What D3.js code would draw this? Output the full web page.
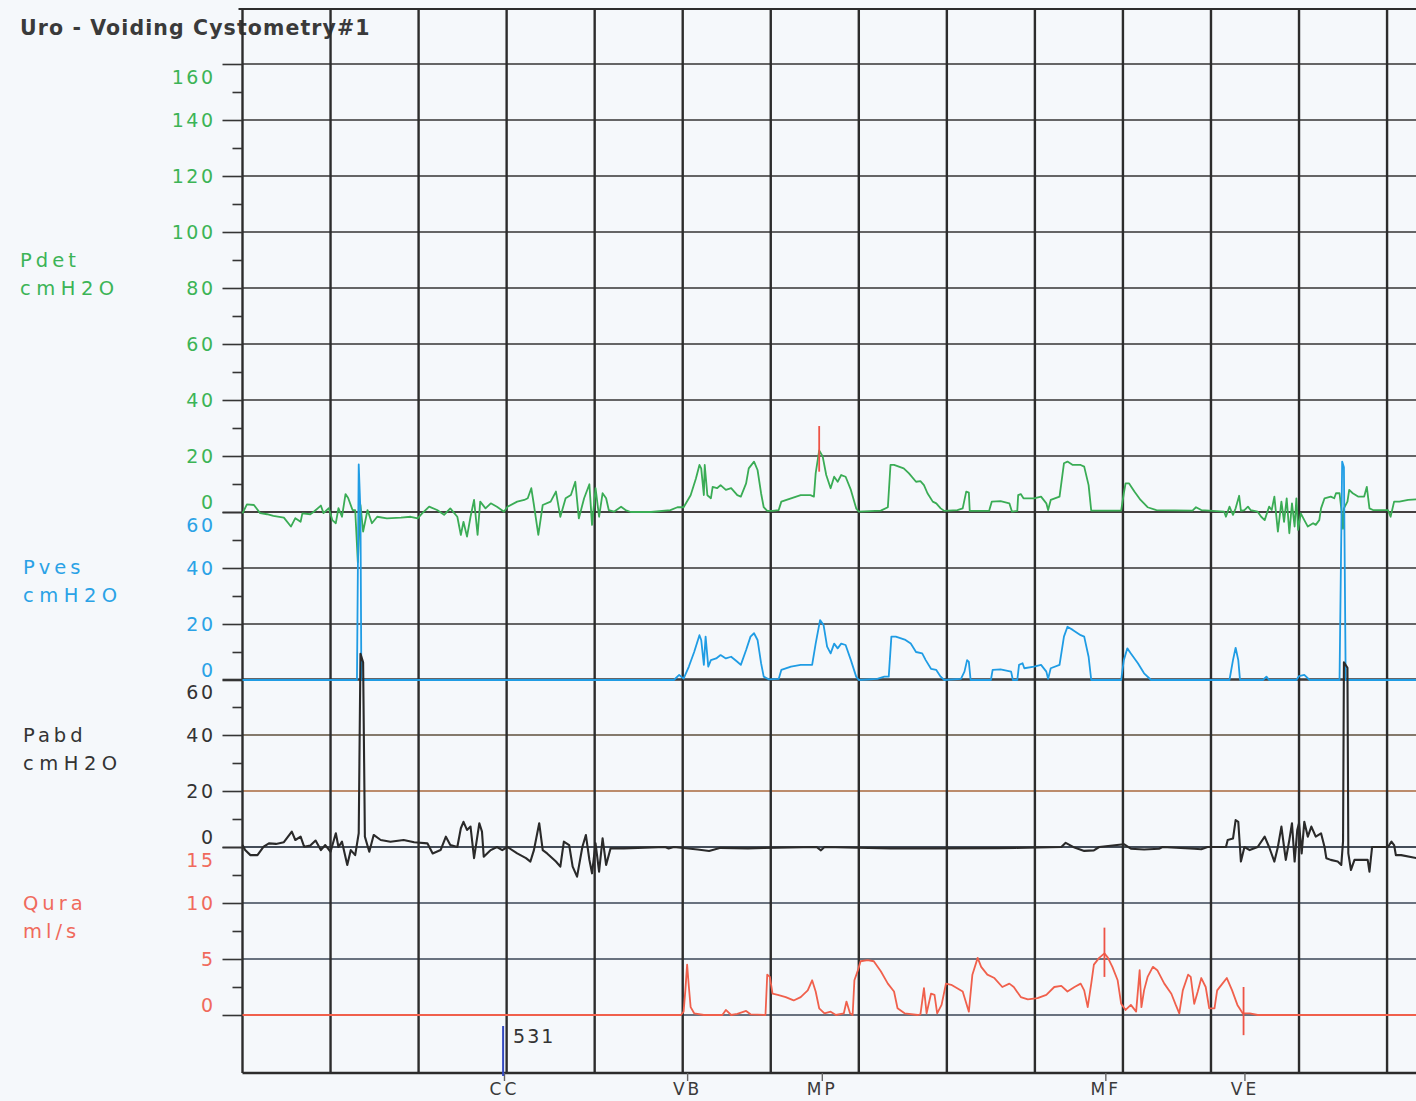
<!DOCTYPE html>
<html>
<head>
<meta charset="utf-8">
<script src="https://cdn.jsdelivr.net/npm/d3@7"></script>
<style>
  html, body { margin: 0; padding: 0; background: #f5f8fb; overflow: hidden; }
  svg { display: block; }
</style>
</head>
<body>
<div id="chart"></div>
<script>
const title = "Uro - Voiding Cystometry#1";

// time in seconds, one grid division = 10 s
const gridTimes = d3.range(0, 140, 10);
const timeDomain = [0, 133.4];

const pdetTicks = [0, 20, 40, 60, 80, 100, 120, 140, 160];
const pvesTicks = [0, 20, 40, 60];
const pabdTicks = [0, 20, 40, 60];
const quraTicks = [0, 5, 10, 15];

// [time s, cmH2O]
const pdet = [
  [0,-0.5],[0.5,2.7],[1.3,2.5],[2.0,-0.4],[2.8,-0.8],[3.5,-1.4],[4.7,-2],[5.5,-5.2],[6.0,-2.2],[6.6,-3.5],
  [6.8,-0.5],[7.7,-0.8],[8.1,0.1],[8.9,2.3],[9.2,-0.4],[9.8,1.4],[10.2,-2.9],[10.6,-4],[10.9,1.4],[11.3,-1.7],
  [11.7,6.4],[12.0,5],[12.5,0.7],[12.8,0.7],[13.1,-18],[13.4,2.5],[13.7,-7],[14.2,0.7],[14.7,-4],[15.3,-1.7],
  [16.4,-2.3],[18.0,-2],[19.1,-1.7],[19.9,-2.3],[20.4,-0.5],[21.2,1.9],[22.1,0.7],[22.9,-1],[23.6,1.3],[24.4,-1.7],
  [24.8,-8.2],[25.1,-3.5],[25.5,-8.8],[25.9,-1.7],[26.3,4.3],[26.7,-8.2],[27.0,3.7],[27.6,1.3],[28.2,3.1],[28.9,1.9],
  [29.7,0.1],[30.1,1.9],[31.2,3.7],[32.0,4.3],[32.4,4.9],[32.8,8.5],[33.1,2.5],[33.6,-8.2],[34.1,2.5],[35.0,3.7],
  [35.6,7.3],[36.1,-1.7],[36.7,4.9],[37.3,6.1],[37.8,10.8],[38.2,-2.3],[38.8,4.9],[39.4,9.9],[39.7,-4.6],[40.1,8.5],
  [40.5,-1.7],[40.9,6.7],[41.3,4.9],[41.6,0.7],[42.2,0.1],[43.0,1.9],[43.5,0.7],[44.1,0],[46.4,0],[48.6,0.7],
  [49.4,1.7],[50.1,1.7],[50.9,6],[51.5,12],[51.9,16.8],[52.1,15.6],[52.4,6],[52.5,16.8],[52.8,6],[53.2,4.9],
  [53.4,9],[53.9,8.5],[54.3,9.6],[54.9,7.9],[55.5,8.5],[56.2,6],[56.6,5.5],[57.2,10.2],[57.5,15.6],[58.1,18],
  [58.5,15],[58.9,6.7],[59.2,1.7],[59.6,0.4],[60.2,0.4],[60.9,0.7],[61.2,3.7],[62.3,4.9],[63.4,6],[64.5,6],
  [64.9,5.5],[65.1,13.8],[65.5,22],[65.9,19.8],[66.3,13.2],[66.8,8.5],[67.2,12.6],[67.6,10.8],[68.0,13.2],[68.5,12.6],
  [69.1,7.9],[69.7,1.3],[70.0,0.1],[72.5,0.5],[73.3,1.7],[73.6,16.8],[74.0,16.8],[75.1,15.6],[75.7,13.8],[76.5,10.8],
  [77.0,11],[77.4,9.6],[77.8,6.7],[78.4,3.7],[78.8,3.1],[79.3,1.3],[79.7,0.4],[81.2,0.7],[81.8,1.3],[82.2,7.3],
  [82.5,6.9],[82.6,0.4],[84.8,0.4],[85.1,3.7],[86.1,3.9],[87.1,3.1],[87.4,0.1],[88.0,0.4],[88.1,6],[88.4,6.4],
  [88.7,4.9],[89.9,4.9],[90.7,5.5],[91.3,3.1],[91.5,0.7],[91.8,4.3],[92.8,5.5],[93.3,17.4],[93.7,18],[94.3,16.8],
  [95.2,16.8],[95.6,16.2],[96.1,9.6],[96.4,0.5],[99.8,0.5],[100.1,6.7],[100.3,10.2],[100.7,10.2],[101.3,7.3],[102.0,4.3],
  [102.8,1.7],[103.8,0.7],[107.9,0.5],[108.3,1.7],[108.9,0.7],[111.5,0.1],[111.7,-1.7],[112.1,1.9],[112.5,-1],[112.8,1.3],
  [113.2,5.8],[113.4,0.4],[113.8,0.7],[114.2,1.9],[114.5,0.7],[115.3,0.1],[115.7,-1.7],[116.1,-2.9],[116.6,1.9],[116.9,0.7],
  [117.2,5.5],[117.6,-7],[118.0,3.7],[118.3,-3.5],[118.6,4.9],[118.9,-7.6],[119.2,3.1],[119.5,-5.2],[119.7,4.9],[119.9,-6.4],
  [120.2,-0.5],[120.6,-2.9],[121.0,-5.2],[121.6,-4],[121.9,-4.6],[122.3,-2.9],[122.5,1.3],[122.9,4.9],[123.6,5.5],[124.0,4.9],
  [124.2,6.7],[124.6,6.7],[124.8,1.3],[125.0,-6],[125.1,1.3],[125.5,3.7],[125.7,7.9],[126.1,6.7],[126.7,5.5],[127.4,5.5],
  [127.7,9],[128.0,1.3],[128.4,0.7],[130.1,0.7],[130.4,-1.7],[130.8,3.7],[131.4,3.7],[132.4,4.3],[133.4,4.5]
];

const pves = [
  [0,0],[13.0,0],[13.2,77],[13.4,60],[13.5,0],[49.0,0],[49.6,1.8],[50.1,0.5],[50.7,4.8],[51.3,10],
  [51.9,16],[52.1,14.3],[52.4,5.4],[52.6,15.5],[52.9,4.8],[53.2,7.1],[53.8,7.7],[54.3,8.9],[54.9,7.7],[55.5,8.3],
  [56.2,6.5],[56.6,5.4],[57.2,10.7],[57.7,15.5],[58.1,16.7],[58.5,14.3],[58.9,6],[59.2,1.2],[59.8,0.2],[60.9,0.4],
  [61.2,3.6],[62.3,4.8],[63.4,5.4],[64.7,5.4],[65.1,13],[65.6,21.4],[66.0,19.6],[66.4,11.9],[66.8,9.5],[67.2,13],
  [67.6,11.3],[68.0,13],[68.5,12.5],[69.1,7.1],[69.7,1.2],[70.0,0],[72.1,0.4],[72.9,1.2],[73.4,1.2],[73.7,15.5],
  [74.2,15.5],[75.3,14.3],[75.9,13],[76.5,10],[77.2,9.5],[77.6,7.1],[78.2,4],[78.8,3.6],[79.3,1.2],[79.7,0],
  [81.6,0.4],[82.0,3],[82.3,7.1],[82.5,6.5],[82.7,0],[85.0,0],[85.2,3.6],[86.1,3.8],[87.3,3],[87.5,0],
  [88.0,0],[88.2,5.4],[88.6,6],[88.8,4.2],[89.9,4.8],[90.7,5.4],[91.3,3],[91.5,0.4],[91.8,4.2],[92.8,5.4],
  [93.3,15.5],[93.7,19],[94.3,17.9],[95.2,16],[95.6,15.5],[96.1,8.3],[96.4,0],[99.8,0],[100.1,7.1],[100.5,11.3],
  [100.9,9.5],[101.7,6],[102.4,2.4],[103.2,0],[112.1,0],[112.5,7.1],[112.8,11.5],[113.1,7.1],[113.3,0],[115.9,0],
  [116.3,1.2],[116.6,0],[119.7,0],[120.0,1.4],[120.6,1.8],[121.2,0],[124.6,0],[124.9,78],[125.1,76],[125.3,0],
  [133.4,0]
];

const pabd = [
  [0,0.7],[0.3,-1.1],[0.9,-2.9],[1.7,-2.9],[2.4,0.1],[3.0,1.3],[3.8,1.1],[4.7,1.7],[5.6,5.5],[6.0,2.5],
  [6.6,3.7],[7.0,0.1],[7.7,0.5],[8.3,2.3],[8.9,-1.1],[9.4,0.7],[10.0,-1.7],[10.6,4.9],[10.9,0],[11.3,1.9],
  [11.9,-6.4],[12.3,-1.1],[12.8,-2.9],[13.2,4.9],[13.4,69],[13.7,66],[13.9,3.7],[14.4,-1.7],[14.9,4.3],[15.7,2.5],
  [16.8,1.9],[18.3,2.5],[19.5,1.7],[21.0,1.3],[21.6,-2.3],[22.5,-1.1],[23.1,3.7],[23.6,0.7],[24.4,0],[24.8,6.7],
  [25.1,9],[25.5,6.1],[25.9,7.3],[26.3,-4],[26.9,8.5],[27.2,5.5],[27.4,-3.5],[28.2,-1.1],[28.9,0],[29.5,-1.1],
  [30.1,0],[31.2,-2.3],[32.2,-4],[32.7,-5.2],[33.1,-1.1],[33.7,8.5],[34.1,-1.1],[34.6,-2.3],[35.6,-5.2],[36.1,-7],
  [36.5,1.9],[37.1,0.7],[37.5,-7],[38.0,-10.6],[38.6,0],[39.0,4.3],[39.4,-4.6],[39.7,-9.4],[40.1,1.3],[40.5,-8.8],
  [40.9,3.1],[41.3,-6.4],[41.8,-0.5],[43.3,-0.5],[44.9,-0.3],[48.0,0],[48.4,-0.5],[49.0,0],[51.7,-0.9],[53.0,-1.4],
  [54.3,-0.3],[57.4,-0.5],[59.2,-0.3],[65.2,0],[65.7,-1.2],[66.1,0],[73.6,-0.5],[78.6,-0.5],[85.8,-0.4],[87.8,-0.3],
  [93.0,0],[93.5,1.5],[94.5,-0.2],[95.6,-1.4],[96.7,-1.2],[97.3,0],[100.1,1],[100.9,-0.6],[102.4,-0.9],[104.1,-0.6],
  [104.5,0],[108.1,-0.6],[108.9,-0.8],[109.6,0],[111.7,0],[111.9,2.5],[112.5,3],[112.8,9.6],[113.1,9],[113.4,-5.2],
  [113.8,0],[114.4,-1.1],[115.3,0],[116.1,3.7],[116.6,0],[117.2,-5.2],[117.6,0],[118.0,7.3],[118.3,0],[118.5,-4.6],
  [118.9,2.5],[119.2,8.5],[119.5,-5.2],[119.8,6.1],[120.0,8.5],[120.3,-2.3],[120.6,9],[121.0,3.7],[121.4,7.3],[121.9,3.7],
  [122.5,4.9],[122.9,0],[123.1,-4],[123.6,-4.6],[124.4,-5.2],[124.8,-6.4],[125.0,2],[125.1,66],[125.5,64],[125.6,-2.3],
  [125.9,-8.2],[126.3,-4.6],[127.8,-4.6],[128.0,-8.8],[128.3,0],[130.1,0],[130.5,1.9],[130.8,0.7],[131.0,-2.9],[131.6,-2.9],
  [133.4,-4]
];

// [time s, ml/s]
const qura = [
  [0,0],[49.8,0],[50.1,0.3],[50.3,2.2],[50.5,4.5],[50.7,2.5],[50.9,0.7],[51.3,0.15],[52.4,0],[54.5,0],
  [54.9,0.45],[55.5,0],[56.2,0.1],[57.2,0.36],[57.7,0.06],[59.4,0],[59.6,3.6],[59.9,3.4],[60.2,1.9],[60.8,1.8],
  [61.7,1.6],[62.6,1.3],[63.4,1.6],[64.2,2.2],[64.7,3.1],[65.1,2.1],[65.5,0.6],[66.1,0.15],[66.8,0.3],[67.4,0],
  [68.3,0.15],[68.6,1.2],[69.0,0.15],[69.3,0],[69.5,3.1],[69.9,4],[70.2,4.8],[71.0,4.9],[71.7,4.8],[72.5,3.9],
  [73.3,2.8],[74.0,2.1],[74.4,0.6],[75.2,0.15],[76.7,0],[77.0,0.06],[77.4,2.4],[77.7,0.15],[78.2,1.9],[78.6,1.8],
  [78.9,0.15],[79.4,0.9],[79.9,2.8],[80.5,2.7],[81.8,2.1],[82.5,0.3],[82.9,3.6],[83.5,5.1],[83.9,4.3],[84.6,3.6],
  [85.4,3.3],[86.3,2.5],[87.1,2.8],[87.6,2.5],[88.4,1.6],[89.2,1.4],[90.3,1.5],[91.3,1.8],[92.2,2.5],[93.0,2.6],
  [93.7,2.1],[94.5,2.5],[95.2,2.8],[95.6,2.2],[96.0,0.7],[96.4,2.8],[96.7,4.5],[97.3,5.1],[97.9,5.5],[98.3,5.1],
  [98.8,4.3],[99.4,3.1],[99.8,1.0],[100.3,0.45],[100.9,0.9],[101.5,0.3],[101.9,4],[102.1,0.7],[102.4,2.2],[102.8,3.4],
  [103.4,4.3],[103.9,4],[104.7,2.8],[105.5,1.9],[106.0,0.9],[106.4,0.15],[106.8,2.2],[107.4,3.6],[107.7,3.4],[108.1,1],
  [108.5,2.1],[108.9,3.3],[109.4,2.5],[109.8,0.6],[110.4,0.6],[110.7,2.2],[111.3,2.8],[111.8,3.3],[112.4,2.2],[113.0,0.9],
  [113.6,0.15],[114.4,0.15],[115.3,0],[133.4,0]
];

const eventLabels = ["CC", "VB", "MP", "MF", "VE"];
const eventTimes = [29.7, 50.5, 65.8, 98.0, 113.8];

const volumeTime = 29.6;
const volumeLabel = "531";

// cursor crosses: [channel, time, low value, high value]
const cursorMarks = [
  ["Pdet", 65.5, 14.4, 30.7],
  ["Qura", 97.9, 3.4, 7.8],
  ["Qura", 113.7, -1.8, 2.5]
];

const W = 1416, H = 1101;
const plotLeft = 242.5, plotRight = 1417, plotTop = 9, plotBottom = 1073;
const labelFont = "DejaVu Sans, Verdana, sans-serif";

const x = d3.scaleLinear().domain(timeDomain).range([plotLeft, plotRight]);

const channels = [
  { key: "Pdet", unit: "cmH2O", data: pdet, ticks: pdetTicks,
    y: d3.scaleLinear().domain([0, 160]).range([512, 64]),
    color: "#3aac55", label: "#3cb456", lx: 20, ly: 260 },
  { key: "Pves", unit: "cmH2O", data: pves, ticks: pvesTicks,
    y: d3.scaleLinear().domain([0, 60]).range([680, 512]),
    color: "#1f9ce4", label: "#2aa2e6", lx: 23, ly: 567 },
  { key: "Pabd", unit: "cmH2O", data: pabd, ticks: pabdTicks,
    y: d3.scaleLinear().domain([0, 60]).range([847, 679]),
    color: "#2a2a2a", label: "#333333", lx: 23, ly: 735 },
  { key: "Qura", unit: "ml/s", data: qura, ticks: quraTicks,
    y: d3.scaleLinear().domain([0, 15]).range([1015, 847]),
    color: "#f0604c", label: "#f06a5c", lx: 23, ly: 903 }
];
const byKey = Object.fromEntries(channels.map((c) => [c.key, c]));

function gridColor(key, tick) {
  if (key === "Pabd" && tick === 20) return "#a8683c";
  if (key === "Pabd" && tick === 40) return "#5e503c";
  if (key === "Qura") return "#3a4656";
  if (key === "Pdet" && tick === 0) return "#4a3430";
  return "#353535";
}

const svg = d3.select("#chart").append("svg").attr("width", W).attr("height", H);
svg.append("rect").attr("width", W).attr("height", H).attr("fill", "#f5f8fb");

svg.append("text")
  .attr("x", 20).attr("y", 35)
  .attr("fill", "#3a3a3a")
  .style("font-family", labelFont)
  .style("font-weight", "bold")
  .style("font-size", "20.5px")
  .style("letter-spacing", "1.1px")
  .text(title);

// horizontal grid
const grid = svg.append("g");
channels.forEach((c) => {
  grid.append("g").selectAll("line")
    .data(c.ticks)
    .join("line")
    .attr("x1", plotLeft).attr("x2", W)
    .attr("y1", (d) => c.y(d)).attr("y2", (d) => c.y(d))
    .attr("stroke", (d) => gridColor(c.key, d))
    .attr("stroke-width", 1.6);
});

// vertical grid
grid.append("g").selectAll("line")
  .data(gridTimes)
  .join("line")
  .attr("x1", (d) => x(d)).attr("x2", (d) => x(d))
  .attr("y1", plotTop).attr("y2", plotBottom)
  .attr("stroke", "#2c2c2c")
  .attr("stroke-width", 2.4);

grid.append("line")
  .attr("x1", plotLeft - 4).attr("x2", W)
  .attr("y1", plotTop).attr("y2", plotTop)
  .attr("stroke", "#2c2c2c").attr("stroke-width", 2);
grid.append("line")
  .attr("x1", plotLeft).attr("x2", W)
  .attr("y1", plotBottom).attr("y2", plotBottom)
  .attr("stroke", "#2c2c2c").attr("stroke-width", 2.4);

// left axes
channels.forEach((c) => {
  const top = d3.max(c.ticks), bottom = d3.min(c.ticks);
  const major = svg.append("g")
    .attr("transform", `translate(${plotLeft},0)`)
    .call(d3.axisLeft(c.y).tickValues(c.ticks).tickSize(20).tickPadding(7).tickFormat(d3.format("d")));
  major.select(".domain").remove();
  major.selectAll("line").attr("stroke", "#353535").attr("stroke-width", 1.6);
  major.selectAll("text")
    .attr("fill", c.label)
    .attr("dy", (d) => (d === top ? "1.0em" : d === bottom ? "-0.2em" : "0.34em"))
    .style("font-family", labelFont)
    .style("font-size", "19px")
    .style("letter-spacing", "2.5px");

  const minorTicks = d3.pairs(c.ticks).map(([a, b]) => (a + b) / 2);
  const minor = svg.append("g")
    .attr("transform", `translate(${plotLeft},0)`)
    .call(d3.axisLeft(c.y).tickValues(minorTicks).tickSize(10).tickFormat(""));
  minor.select(".domain").remove();
  minor.selectAll("line").attr("stroke", "#353535").attr("stroke-width", 1.6);

  const lab = svg.append("text")
    .attr("fill", c.label)
    .style("font-family", labelFont)
    .style("font-size", "19.5px");
  lab.append("tspan").attr("x", c.lx).attr("y", c.ly + 7)
    .style("letter-spacing", "4px").text(c.key);
  lab.append("tspan").attr("x", c.lx).attr("y", c.ly + 35)
    .style("letter-spacing", c.unit === "cmH2O" ? "5.5px" : "4px").text(c.unit);
});

// traces
const drawOrder = ["Pdet", "Pves", "Pabd", "Qura"];
drawOrder.forEach((k) => {
  const c = byKey[k];
  const line = d3.line().x((d) => x(d[0])).y((d) => c.y(d[1]));
  svg.append("path")
    .datum(c.data)
    .attr("fill", "none")
    .attr("stroke", c.color)
    .attr("stroke-width", k === "Pabd" ? 2.1 : 1.8)
    .attr("stroke-linejoin", "round")
    .attr("d", line);
});

// cursor crosses
svg.append("g").selectAll("line")
  .data(cursorMarks)
  .join("line")
  .attr("x1", (d) => x(d[1])).attr("x2", (d) => x(d[1]))
  .attr("y1", (d) => byKey[d[0]].y(d[2]))
  .attr("y2", (d) => byKey[d[0]].y(d[3]))
  .attr("stroke", "#ee5446")
  .attr("stroke-width", 1.8);

// event axis
const ev = svg.append("g")
  .attr("transform", `translate(0,${plotBottom})`)
  .call(d3.axisBottom(x).tickValues(eventTimes).tickSize(8).tickPadding(2)
    .tickFormat((d, i) => eventLabels[i]));
ev.select(".domain").remove();
ev.selectAll("line").attr("stroke", "#666").attr("stroke-width", 1.4);
ev.selectAll("text")
  .attr("fill", "#3a3a3a")
  .style("font-family", labelFont)
  .style("font-size", "17px")
  .style("letter-spacing", "3px");

// infused volume cursor
svg.append("line")
  .attr("x1", x(volumeTime)).attr("x2", x(volumeTime))
  .attr("y1", plotBottom - 47).attr("y2", plotBottom + 3)
  .attr("stroke", "#3348c0").attr("stroke-width", 2);
svg.append("text")
  .attr("x", x(volumeTime) + 10).attr("y", plotBottom - 30)
  .attr("fill", "#333")
  .style("font-family", labelFont)
  .style("font-size", "19px")
  .style("letter-spacing", "2px")
  .text(volumeLabel);
</script>
</body>
</html>
